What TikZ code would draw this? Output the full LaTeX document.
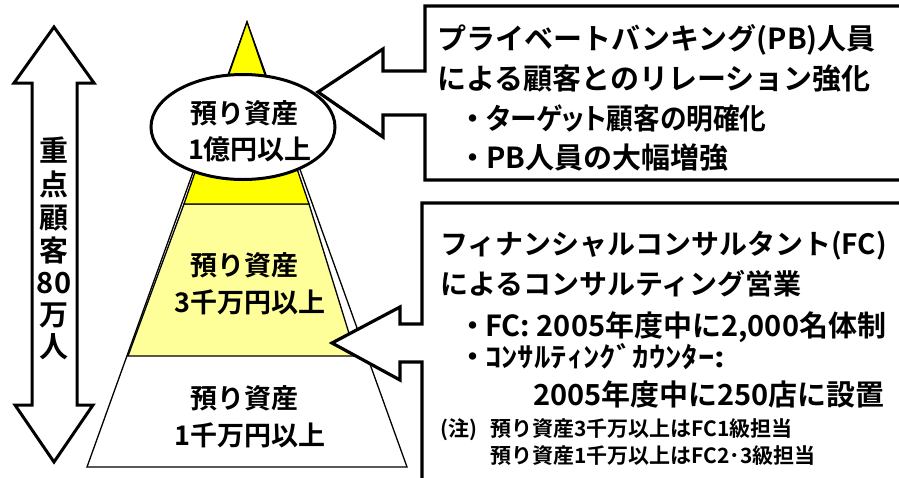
\documentclass[tikz,border=0pt]{standalone}
\usepackage{fontspec}
\usetikzlibrary{shapes.geometric}
\newfontfamily\jp{Noto Sans CJK JP}[UprightFont={* Bold}]
\newfontfamily\jpp{Noto Sans CJK JP}[UprightFont={* Bold}, RawFeature=+palt]
\definecolor{brightyellow}{HTML}{FFFF00}
\definecolor{paleyellow}{HTML}{FFFF99}
\begin{document}
\begin{tikzpicture}[x=1pt,y=-1pt,
  callout/.style={draw=black, line width=3.2pt, fill=white, line join=miter},
  pyrline/.style={draw=black, line width=1.3pt, line join=miter},
  bigarrow/.style={draw=black, line width=3pt, fill=white, line join=miter},
  txt/.style={anchor=base west, inner sep=0pt},
  ctxt/.style={anchor=base, inner sep=0pt},
  fa/.style={font=\jp\fontsize{29}{29}\selectfont},
  fap/.style={font=\jpp\fontsize{29}{29}\selectfont},
  fb/.style={font=\jp\fontsize{28}{28}\selectfont},
  fbb/.style={font=\jp\fontsize{29}{29}\selectfont},
  fc/.style={font=\jp\fontsize{21}{21}\selectfont},
  fp/.style={font=\jp\fontsize{27}{27}\selectfont},
  fv/.style={font=\jp\fontsize{29}{29}\selectfont}]
\useasboundingbox (0,0) rectangle (899,477);
\clip (0,0) rectangle (899,477);
% pyramid
\path[pyrline, fill=white] (247,22) -- (407,467) -- (87,467) -- cycle;
\path[pyrline, fill=paleyellow] (184,204) -- (309,204) -- (356,356) -- (128,356) -- cycle;
\path[pyrline, fill=brightyellow] (247,22) -- (309,204) -- (184,204) -- cycle;
\node[draw=black, line width=3pt, fill=white, ellipse, minimum width=184, minimum height=105, inner sep=0pt] (top) at (243,127) {};
% left double arrow
\path[bigarrow] (54,27) -- (94,83) -- (77,83) -- (77,405) -- (93,405) -- (54,462) -- (15,405) -- (32,405) -- (32,83) -- (14,83) -- cycle;
\foreach \c/\y [count=\i] in {重/150,点/184,顧/217,客/250,80/282,万/314,人/346}
  \node[ctxt, fv] (v\i) at (54,\y+11) {\c};
% pyramid texts
\node[ctxt, fp] (p1) at (244,113+10) {預り資産};
\node[ctxt, fp] (p2) at (250,149+10) {1億円以上};
\node[ctxt, fp] (p3) at (244,265+10) {預り資産};
\node[ctxt, fp] (p4) at (250,302+10) {3千万円以上};
\node[ctxt, fp] (p5) at (244,398+10) {預り資産};
\node[ctxt, fp] (p6) at (250,435+10) {1千万円以上};
% callouts
\path[callout] (905,6) -- (425,6) -- (425,71) -- (383,71) -- (383,49) -- (318,92) -- (383,137) -- (383,115) -- (425,115) -- (425,180) -- (905,180);
\path[callout] (905,203) -- (422,203) -- (422,324) -- (400,324) -- (400,307) -- (332,343) -- (400,380) -- (400,362) -- (422,362) -- (422,485);
% top box text
\node[txt, fa] (a1) at (437,38+11) {プライベートバンキング(PB)人員};
\node[txt, fa] (a2) at (437,78+11) {による顧客とのリレーション強化};
\node[ctxt, fa] (d3) at (473,118+11) {・};
\node[txt, fap] (a3) at (486,118+11) {\scalebox{0.92}[1]{ターゲット顧客の明確化}};
\node[ctxt, fa] (d4) at (473,157+11) {・};
\node[txt, fa] (a4) at (486,157+11) {PB人員の大幅増強};
% bottom box text
\node[txt, fb] (b1) at (440,243+11) {フィナンシャルコンサルタント(FC)};
\node[txt, fb] (b2) at (440,283+11) {によるコンサルティング営業};
\node[ctxt, fbb] (e3) at (473,325+11) {・};
\node[txt, fbb] (b3) at (485,325+11) {FC: 2005年度中に2,000名体制};
\node[ctxt, fbb] (e4) at (473,356+11) {・};
\node[txt, fb] (b4) at (485,356+11) {\scalebox{1.17}[1]{ｺﾝｻﾙﾃｨﾝｸﾞｶｳﾝﾀｰ:}};
\node[txt, fbb] (b5) at (533,394+11) {2005年度中に250店に設置};
\node[txt, fc] (n0) at (440,428+8) {(注)};
\node[txt, fc] (n1) at (490,428+8) {預り資産3千万以上はFC1級担当};
\node[txt, fc] (n2) at (490,455+8) {預り資産1千万以上はFC2･3級担当};
\end{tikzpicture}
\end{document}
